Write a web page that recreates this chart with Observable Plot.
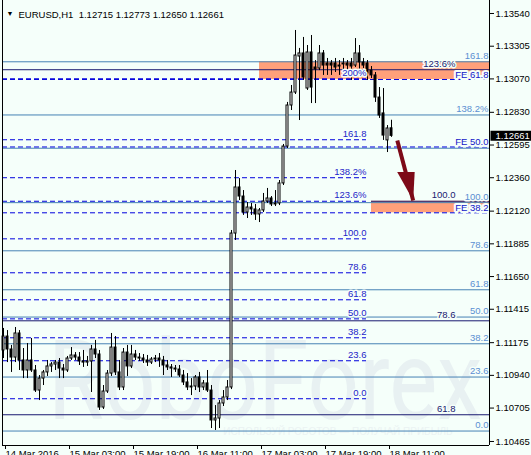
<!DOCTYPE html>
<html><head><meta charset="utf-8">
<script src="https://cdn.jsdelivr.net/npm/d3@7"></script>
<script src="https://cdn.jsdelivr.net/npm/@observablehq/plot@0.6"></script>
<style>
html,body{margin:0;padding:0;background:#f5fffa;}
#wrap{position:relative;width:531px;height:455px;overflow:hidden;background:#f5fffa;}
#wm{position:absolute;left:0;top:0;z-index:0;}
#chart{position:absolute;left:0;top:0;z-index:1;}
</style></head><body>
<div id="wrap">
<svg id="wm" width="531" height="455">
  <text x="48" y="419" transform="scale(0.81,1)" transform-origin="48 419" font-family="Roboto, 'Liberation Sans', sans-serif" font-size="112" fill="#e8f1f2">RoboForex</text>
  <text x="338" y="435" text-anchor="middle" font-family="'Liberation Sans', sans-serif" font-size="10" fill="#ebf3f3">ИСПОЛЬЗУЙ РОБОТОВ — ПОЛУЧАЙ ПРИБЫЛЬ</text>
</svg>
<div id="chart"></div>
</div>
<script>
// ---- data (EURUSD H1, bars from 14 Mar 2016 11:00) ----
const open = [1.11119,1.11219,1.11126,1.11068,1.11241,1.11047,1.10975,1.11047,1.10975,1.10831,
1.10917,1.10961,1.11004,1.11018,1.11032,1.10989,1.10975,1.11061,1.11083,1.11068,
1.11040,1.11032,1.11040,1.11126,1.11090,1.10709,1.10824,1.10953,1.11140,1.10961,
1.10853,1.11104,1.11004,1.11090,1.11068,1.11061,1.11047,1.11032,1.11054,1.11061,
1.11047,1.11011,1.10997,1.10989,1.10982,1.10939,1.10889,1.10853,1.10860,1.10925,
1.10853,1.10882,1.10831,1.10616,1.10630,1.10738,1.10781,1.10853,1.11959,1.12290,
1.12225,1.12110,1.12146,1.12132,1.12096,1.12125,1.12189,1.12211,1.12168,1.12175,
1.12319,1.12584,1.12879,1.12972,1.13231,1.13253,1.13001,1.13260,1.13152,1.13145,
1.13253,1.13181,1.13181,1.13181,1.13166,1.13174,1.13181,1.13181,1.13166,1.13253,
1.13188,1.13181,1.13130,1.13095,1.12936,1.12822,1.12628,1.12715];
const high = [1.11277,1.11262,1.11155,1.11284,1.11262,1.11133,1.11169,1.11205,1.11011,1.10939,
1.10975,1.11047,1.11032,1.11047,1.11061,1.11018,1.11076,1.11140,1.11104,1.11104,
1.11119,1.11076,1.11155,1.11191,1.11119,1.10867,1.10975,1.11241,1.11219,1.11047,
1.11133,1.11155,1.11155,1.11119,1.11097,1.11090,1.11083,1.11068,1.11083,1.11097,
1.11076,1.11047,1.11018,1.11011,1.11011,1.10975,1.10953,1.10917,1.10939,1.10961,
1.10903,1.10975,1.10867,1.10723,1.10759,1.10831,1.10903,1.11981,1.12412,1.12354,
1.12268,1.12182,1.12175,1.12168,1.12139,1.12247,1.12283,1.12225,1.12268,1.12340,
1.12599,1.12901,1.13023,1.13418,1.13289,1.13368,1.13310,1.13382,1.13202,1.13310,
1.13274,1.13217,1.13202,1.13217,1.13202,1.13217,1.13202,1.13217,1.13360,1.13310,
1.13217,1.13202,1.13159,1.13116,1.13008,1.13001,1.12735,1.12773];
const low = [1.11061,1.11032,1.10961,1.11032,1.10975,1.10917,1.10917,1.10961,1.10817,1.10759,
1.10867,1.10932,1.10961,1.10975,1.10917,1.10917,1.10961,1.11047,1.11047,1.11011,
1.10997,1.11004,1.10817,1.11061,1.10688,1.10695,1.10810,1.10932,1.10939,1.10831,
1.10831,1.10932,1.10989,1.11047,1.11040,1.11025,1.11004,1.11018,1.11032,1.10997,
1.10939,1.10975,1.10925,1.10961,1.10925,1.10867,1.10831,1.10795,1.10831,1.10817,
1.10831,1.10817,1.10558,1.10544,1.10558,1.10716,1.10759,1.10838,1.11909,1.12196,
1.12089,1.12067,1.12089,1.12053,1.12038,1.12110,1.12175,1.12153,1.12153,1.12160,
1.12304,1.12570,1.12843,1.12958,1.12771,1.13059,1.12987,1.12893,1.12893,1.13130,
1.13095,1.13095,1.13095,1.13116,1.13095,1.13130,1.13109,1.13059,1.13152,1.13095,
1.13145,1.13059,1.13073,1.12901,1.12786,1.12628,1.12541,1.12650];
const close = [1.11219,1.11126,1.11068,1.11241,1.11047,1.10975,1.11047,1.10975,1.10831,1.10917,
1.10961,1.11004,1.11018,1.11032,1.10989,1.10975,1.11061,1.11083,1.11068,1.11040,
1.11032,1.11040,1.11126,1.11090,1.10709,1.10824,1.10953,1.11140,1.10961,1.10853,
1.11104,1.11004,1.11090,1.11068,1.11061,1.11047,1.11032,1.11054,1.11061,1.11047,
1.11011,1.10997,1.10989,1.10982,1.10939,1.10889,1.10853,1.10860,1.10925,1.10853,
1.10882,1.10831,1.10616,1.10630,1.10738,1.10781,1.10853,1.11959,1.12290,1.12225,
1.12110,1.12146,1.12132,1.12096,1.12125,1.12189,1.12211,1.12168,1.12175,1.12319,
1.12584,1.12879,1.12972,1.13238,1.13253,1.13080,1.13260,1.13008,1.13138,1.13253,
1.13166,1.13166,1.13166,1.13152,1.13159,1.13181,1.13166,1.13159,1.13253,1.13188,
1.13166,1.13109,1.13095,1.12936,1.12807,1.12663,1.12714,1.12661];

const xTickIndex = [0,16,32,48,64,80,96];
const xTickLabels = ["14 Mar 2016","15 Mar 03:00","15 Mar 19:00","16 Mar 11:00","17 Mar 03:00","17 Mar 19:00","18 Mar 11:00"];
const yTicks = [1.13540,1.13305,1.13070,1.12830,1.12595,1.12360,1.12120,1.11885,1.11650,1.11415,1.11175,1.10940,1.10705,1.10465];

// Fibonacci set A (solid steel blue rays)
const fibAPrice = [1.10540,1.10928,1.11167,1.11359,1.11555,1.11835,1.12181,1.12572,1.12811,1.13193];
const fibALabel = ["0.0","23.6","38.2","50.0","61.8","78.6","100.0","","138.2%","161.8"];
// Fibonacci set B (dashed blue, ends at bar 90.75)
const fibBPrice = [1.10772,1.11045,1.11210,1.11346,1.11483,1.11677,1.11921,1.12191,1.12360,1.12633,1.13071];
const fibBLabel = ["0.0","23.6","38.2","50.0","61.8","78.6","100.0","123.6%","138.2%","161.8","200%"];
const fibBEnd = 90.75;
// Fibonacci expansion (dashed blue rays)
const fePrice = [1.13066,1.12581,1.12108];
const feLabel = ["FE 61.8","FE 50.0","FE 38.2"];
// Fibonacci set C (navy)
const fibCPrice = [1.10657,1.11332,1.12191,1.13136];
const fibCLabel = ["61.8","78.6","100.0","123.6%"];
const fibCStart = [null,null,92,null];
const fibCLabelEnd = 113;
// target zones
const zoneStart = [64,92];
const zoneTop = [1.13193,1.12191];
const zoneBottom = [1.13066,1.12108];
// forecast arrow
const arrowFrom = [98.45,1.12628];
const arrowTo = [102.42,1.12196];
const title = "EURUSD,H1  1.12715 1.12773 1.12650 1.12661";

// ---- build ----
const BG = "#f5fffa";
const xDomain = [-0.25,121.5];
const yDomain = [1.104361,1.136334];
const candles = open.map((o,i)=>({i,o,h:high[i],l:low[i],c:close[i]}));
const up = candles.filter(d=>d.c>=d.o), dn = candles.filter(d=>d.c<d.o);
const A = fibAPrice.map((p,k)=>({p,t:fibALabel[k]}));
const B = fibBPrice.map((p,k)=>({p,t:fibBLabel[k]}));
const FE = fePrice.map((p,k)=>({p,t:feLabel[k]}));
const C = fibCPrice.map((p,k)=>({p,t:fibCLabel[k],s:fibCStart[k]==null?xDomain[0]:fibCStart[k]}));
const zones = zoneStart.map((s,k)=>({s,t:zoneTop[k],b:zoneBottom[k]}));
const arrow = [{x1:arrowFrom[0],y1:arrowFrom[1],x2:arrowTo[0],y2:arrowTo[1]}];
const headSymbol = {draw(ctx){ctx.moveTo(0,0);ctx.lineTo(-16,-28.5);ctx.lineTo(1.5,-28.5);ctx.closePath();}};
const boxSymbol = {draw(ctx){ctx.rect(1,-5,42,10);}};
const lastClose = close[close.length-1];
const dashed = "5,3";
const FONT = "'Liberation Sans', Arial, sans-serif";

const chart = Plot.plot({
  width:531, height:455,
  marginLeft:2, marginRight:42, marginTop:0, marginBottom:10,
  x:{domain:xDomain, axis:null},
  y:{domain:yDomain, axis:null},
  style:{background:"transparent", fontFamily:FONT, fontSize:"9.5px", color:"black", overflow:"visible"},
  marks:[
    Plot.rect(zones,{x1:"s", x2:xDomain[1], y1:"b", y2:"t", fill:"#ffa07a"}),
    Plot.ruleY(A,{y:"p", stroke:"#4682b4", strokeWidth:1}),
    Plot.ruleY(C,{y:"p", x1:"s", x2:xDomain[1], stroke:"#191970", strokeWidth:1}),
    Plot.ruleY(B,{y:"p", x1:xDomain[0], x2:fibBEnd, stroke:"#0000dd", strokeWidth:1, strokeDasharray:dashed}),
    Plot.ruleY(FE,{y:"p", stroke:"#0000dd", strokeWidth:1, strokeDasharray:dashed}),
    Plot.ruleX(candles,{x:"i", y1:"l", y2:"h", stroke:"black", strokeWidth:1}),
    Plot.rect(up,{x1:d=>d.i-0.25, x2:d=>d.i+0.25, y1:"o", y2:"c", fill:"white", stroke:"black", strokeWidth:1}),
    Plot.rect(dn,{x1:d=>d.i-0.25, x2:d=>d.i+0.25, y1:"o", y2:"c", fill:"black", stroke:"black", strokeWidth:1}),
    Plot.text(A.filter(d=>d.t),{x:xDomain[1], y:"p", text:"t", textAnchor:"end", dx:-1, dy:-6, fill:"#5b8fd2", stroke:BG, strokeWidth:3}),
    Plot.text(B,{x:fibBEnd, y:"p", text:"t", textAnchor:"end", dx:0, dy:-6, fill:"#2424c8", stroke:BG, strokeWidth:3}),
    Plot.text(C,{x:fibCLabelEnd, y:"p", text:"t", textAnchor:"end", dy:-6, fill:"#191970", stroke:BG, strokeWidth:3}),
    Plot.text(FE,{x:xDomain[1], y:"p", text:"t", textAnchor:"end", dx:-1, dy:-5, fill:"#1414c8", stroke:BG, strokeWidth:4}),
    Plot.link(arrow,{x1:"x1", y1:"y1", x2:"x2", y2:"y2", stroke:"#7d0a18", strokeWidth:4}),
    Plot.dot(arrow,{x:"x2", y:"y2", symbol:headSymbol, fill:"#7d0a18", stroke:null, r:5}),
    Plot.ruleX([xDomain[0], xDomain[1]],{stroke:"black"}),
    Plot.ruleY([yDomain[0]],{stroke:"black"}),
    Plot.axisY(yTicks,{anchor:"right", tickSize:4, tickPadding:2, tickFormat:d=>d.toFixed(5), stroke:"black", fill:"black", fontSize:9.5}),
    Plot.axisX(xTickIndex,{anchor:"bottom", tickSize:4, tickPadding:1, tickFormat:d=>xTickLabels[xTickIndex.indexOf(d)], textAnchor:"start", dx:2, stroke:"black", fill:"black", fontSize:9.5}),
    Plot.dot([lastClose],{x:xDomain[1], y:d=>d, symbol:boxSymbol, fill:"black", stroke:null, r:5}),
    Plot.text([lastClose],{x:xDomain[1], y:d=>d, text:d=>d.toFixed(5), textAnchor:"start", dx:6, fill:"white", fontSize:9.5}),
    Plot.text(["▼"],{frameAnchor:"top-left", dx:4, dy:11, textAnchor:"start", fontSize:7, fill:"black"}),
    Plot.text([title],{frameAnchor:"top-left", dx:16, dy:11, textAnchor:"start", fontSize:9.5, fill:"black"})
  ]
});
document.getElementById("chart").appendChild(chart);
</script>
</body></html>
